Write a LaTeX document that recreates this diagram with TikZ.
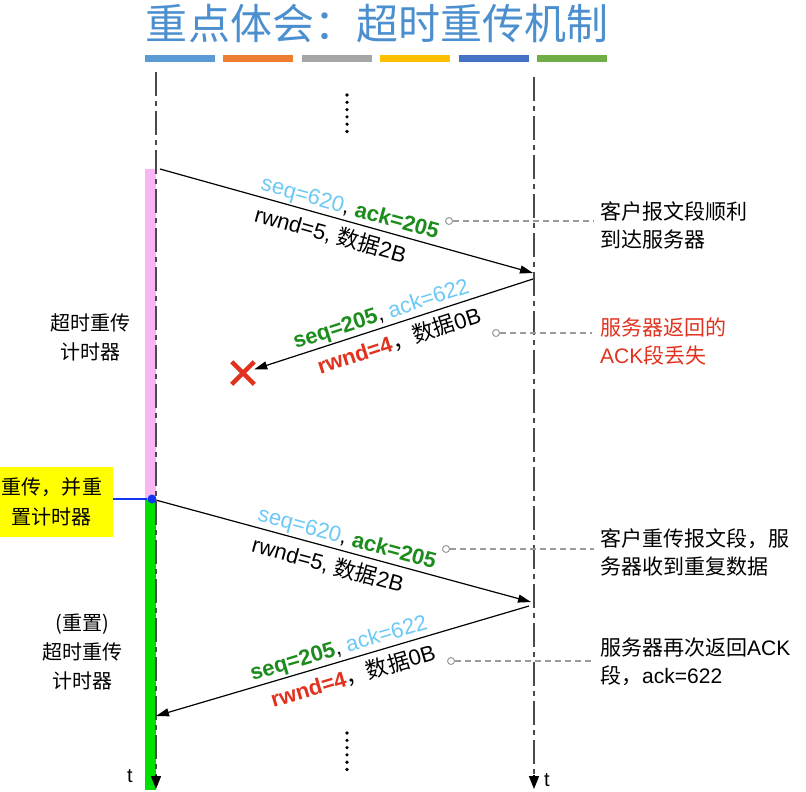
\documentclass[tikz,border=0pt]{standalone}
\usepackage{fontspec}
\setmainfont{Liberation Sans}
\newfontfamily\cjk{Noto Sans CJK SC}
\usepackage{xcolor}
\usetikzlibrary{arrows.meta,positioning,calc,shapes.misc}
\definecolor{TitleBlue}{HTML}{4C8FCF}
\definecolor{SeqBlue}{HTML}{6CC8F4}
\definecolor{AckGreen}{HTML}{1C8C1C}
\definecolor{LossRed}{HTML}{E0321E}
\definecolor{TimerPink}{HTML}{F9B6F2}
\definecolor{TimerGreen}{HTML}{00E000}
\definecolor{NoteYellow}{HTML}{FFFF00}
\definecolor{DotBlue}{HTML}{1035F5}
\definecolor{LineGray}{HTML}{4A4A4A}
\definecolor{HintGray}{HTML}{9A9A9A}
\definecolor{BarA}{HTML}{5B9BD5}
\definecolor{BarB}{HTML}{ED7D31}
\definecolor{BarC}{HTML}{A5A5A5}
\definecolor{BarD}{HTML}{FFC000}
\definecolor{BarE}{HTML}{4472C4}
\definecolor{BarF}{HTML}{70AD47}
\newcommand\pts[2]{\fontsize{#1bp}{#2bp}\selectfont}

\begin{document}
\begin{tikzpicture}[
  x=1bp, y=-1bp,
  timeline/.style={LineGray, line width=1.6bp, dash pattern=on 24bp off 5bp on 5bp off 5bp},
  axisend/.style={black, line width=1.6bp, -{Triangle[length=13bp,width=10bp]}},
  segment/.style={black, line width=1.2bp, -{Triangle[length=13bp,width=8bp]}},
  seglabel/.style={sloped, inner xsep=0pt, font=\pts{22}{26}},
  uplabel/.style={seglabel, above, inner ysep=1.5bp},
  downlabel/.style={seglabel, below, inner ysep=6bp},
  hint/.style={HintGray, line width=1.1bp, dash pattern=on 6bp off 4bp},
  hintdot/.style={circle, draw=HintGray, fill=white, line width=1bp, inner sep=0pt, minimum size=7bp},
  note/.style={anchor=west, align=left, inner sep=0pt, font=\pts{21}{28}\cjk},
  timer/.style={align=center, inner sep=0pt, font=\pts{20}{29}\cjk}
]
\useasboundingbox (0,0) rectangle (806,792);

% title and colour strip
\node[font=\pts{42}{42}\cjk, text=TitleBlue, inner sep=0pt] (title) at (377,24) {重点体会：超时重传机制};
\foreach \c [count=\i from 0] in {BarA,BarB,BarC,BarD,BarE,BarF}
  \fill[\c] ({145+\i*78.4},55) rectangle +(70,7);

% timers on the client side
\fill[TimerPink] (145,169) rectangle (156,499);
\fill[TimerGreen] (145,499) rectangle (156,790);

% time axes
\coordinate (ctop) at (156,72);
\coordinate (cbot) at (156,789);
\coordinate (stop) at (534,77);
\coordinate (sbot) at (534,789);
\draw[timeline] (ctop) -- ($(cbot)+(0,-12)$);
\draw[timeline] (stop) -- ($(sbot)+(0,-12)$);
\draw[axisend] ($(cbot)+(0,-14)$) -- (cbot);
\draw[axisend] ($(sbot)+(0,-14)$) -- (sbot);
\node[font=\pts{20}{20}, inner sep=0pt] (tc) at (130,776) {t};
\node[font=\pts{20}{20}, inner sep=0pt] (ts) at (547,780) {t};

\foreach \k in {0,...,5} {
  \fill (347,{95+\k*7.3}) circle (1.8bp);
  \fill (347,{733+\k*7.3}) circle (1.8bp);
}

\node[timer] (timer1) at (90,337) {超时重传\\计时器};
\node[timer] (timer2) at (82,652) {(重置)\\超时重传\\计时器};

% first segment and lost ack
\coordinate (a1s) at (160,169);
\coordinate (a1e) at (533,273);
\draw[segment] (a1s) --
  node[uplabel, pos=0.5] {{\color{SeqBlue}seq=620}, {\color{AckGreen}\bfseries ack=205}}
  node[downlabel, pos=0.47] {rwnd=5, {\cjk 数据}2B} (a1e);

\node[cross out, draw=LossRed, line width=4.5bp, minimum size=18bp, inner sep=0pt] (lost) at (243,373) {};
\coordinate (a2s) at (533,279);
\draw[segment] (a2s) --
  node[uplabel, pos=0.53] {{\color{AckGreen}\bfseries seq=205}, {\color{SeqBlue}ack=622}}
  node[downlabel, pos=0.5] {{\color{LossRed}\bfseries rwnd=4}{\cjk ，数据}0B} (lost);

% retransmission
\node[fill=NoteYellow, align=center, minimum width=122bp, minimum height=70bp,
  inner sep=0pt, font=\pts{20}{30}\cjk] (retx) at (52,502) {重传，并重\\置计时器};
\node[circle, fill=DotBlue, inner sep=0pt, minimum size=9bp] (rdot) at (152,499) {};
\draw[DotBlue, line width=1.2bp] (retx.east |- rdot) -- (rdot);

\coordinate (a3e) at (531,602);
\draw[segment] (rdot) --
  node[uplabel, pos=0.5] {{\color{SeqBlue}seq=620}, {\color{AckGreen}\bfseries ack=205}}
  node[downlabel, pos=0.47] {rwnd=5, {\cjk 数据}2B} (a3e);

\coordinate (a4s) at (529,606);
\coordinate (a4e) at (156,716);
\draw[segment] (a4s) --
  node[uplabel, pos=0.5] {{\color{AckGreen}\bfseries seq=205}, {\color{SeqBlue}ack=622}}
  node[downlabel, pos=0.485] {{\color{LossRed}\bfseries rwnd=4}{\cjk ，数据}0B} (a4e);

% notes on the right
\node[note] (n1) at (600,225) {客户报文段顺利\\到达服务器};
\node[note, text=LossRed] (n2) at (600,342) {服务器返回的\\{\rmfamily ACK}段丢失};
\node[note] (n3) at (600,552) {客户重传报文段，服\\务器收到重复数据};
\node[note] (n4) at (600,662) {服务器再次返回{\rmfamily ACK}\\段，{\rmfamily ack=622}};

\node[hintdot] (h1) at (449,221) {};
\node[hintdot] (h2) at (496,333) {};
\node[hintdot] (h3) at (446,549) {};
\node[hintdot] (h4) at (451,661) {};
\draw[hint] (h1) -- ([xshift=-6bp]n1.west |- h1);
\draw[hint] (h2) -- ([xshift=-8bp]n2.west |- h2);
\draw[hint] (h3) -- ([xshift=-6bp]n3.west |- h3);
\draw[hint] (h4) -- ([xshift=-6bp]n4.west |- h4);
\end{tikzpicture}
\end{document}
